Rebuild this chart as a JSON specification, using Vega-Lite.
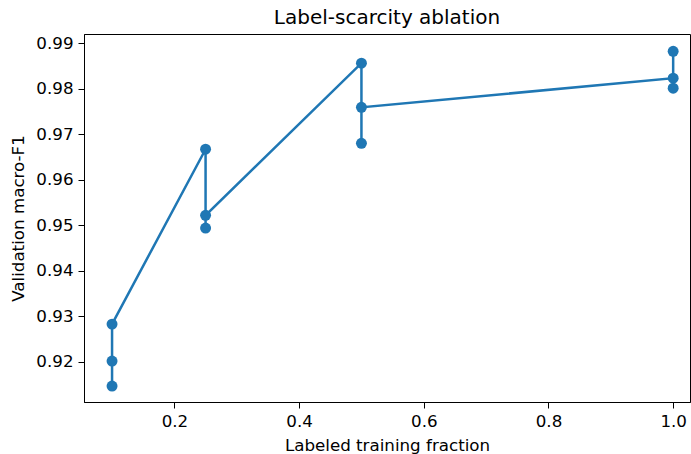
{
  "$schema": "https://vega.github.io/schema/vega-lite/v6.json",
  "autosize": "none",
  "width": 606,
  "height": 368,
  "padding": {"left": 84, "top": 34, "right": 1, "bottom": 52},
  "background": "white",
  "title": {"text": "Label-scarcity ablation", "fontSize": 20, "font": "DejaVu Sans", "fontWeight": "normal", "color": "black", "anchor": "middle", "offset": 6},
  "config": {
    "view": {"stroke": "black", "strokeWidth": 1},
    "axis": {
      "labelFont": "DejaVu Sans", "titleFont": "DejaVu Sans",
      "labelFontSize": 16.7, "titleFontSize": 16.7, "titleFontWeight": "normal",
      "labelColor": "black", "titleColor": "black",
      "tickColor": "black", "domainColor": "black", "tickSize": 6,
      "labelPadding": 5, "grid": false
    }
  },
  "data": {"values": [
    {"fraction": 0.1, "f1": 0.9202, "i": 0},
    {"fraction": 0.1, "f1": 0.9147, "i": 1},
    {"fraction": 0.1, "f1": 0.9283, "i": 2},
    {"fraction": 0.25, "f1": 0.9667, "i": 3},
    {"fraction": 0.25, "f1": 0.9494, "i": 4},
    {"fraction": 0.25, "f1": 0.9522, "i": 5},
    {"fraction": 0.5, "f1": 0.9856, "i": 6},
    {"fraction": 0.5, "f1": 0.9680, "i": 7},
    {"fraction": 0.5, "f1": 0.9759, "i": 8},
    {"fraction": 1.0, "f1": 0.9823, "i": 9},
    {"fraction": 1.0, "f1": 0.9882, "i": 10},
    {"fraction": 1.0, "f1": 0.9801, "i": 11}
  ]},
  "encoding": {
    "x": {"field": "fraction", "type": "quantitative", "scale": {"domain": [0.055, 1.027], "nice": false, "zero": false},
      "axis": {"values": [0.2, 0.4, 0.6, 0.8, 1.0], "format": ".1f", "title": "Labeled training fraction", "titlePadding": 8}},
    "y": {"field": "f1", "type": "quantitative", "scale": {"domain": [0.9112, 0.992], "nice": false, "zero": false},
      "axis": {"values": [0.92, 0.93, 0.94, 0.95, 0.96, 0.97, 0.98, 0.99], "format": ".2f", "title": "Validation macro-F1", "titlePadding": 8}}
  },
  "layer": [
    {"mark": {"type": "line", "color": "#1f77b4", "strokeWidth": 2.5}, "encoding": {"order": {"field": "i", "type": "quantitative"}}},
    {"mark": {"type": "point", "filled": true, "color": "#1f77b4", "size": 120, "opacity": 1}}
  ]
}
